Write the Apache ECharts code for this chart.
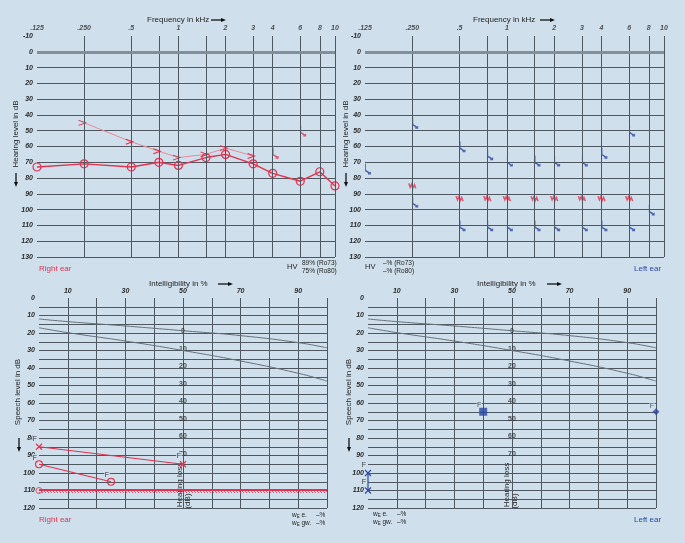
<!DOCTYPE html>
<html>
<head>
<meta charset="utf-8">
<script src="https://cdn.jsdelivr.net/npm/echarts@6/dist/echarts.min.js"></script>
<style>
  html, body { margin: 0; padding: 0; background: #cfe0ec; }
  #chart { width: 685px; height: 543px; }
</style>
</head>
<body>
<div id="chart"></div>
<script>
// ---- pure-tone audiogram (kHz / dB HL) ----
var gridFreqs = [0.25, 0.5, 0.75, 1, 1.5, 2, 3, 4, 6, 8, 10];
var tickFreqs = [0.125, 0.25, 0.5, 1, 2, 3, 4, 6, 8, 10];
var tickNames = ['.125', '.250', '.5', '1', '2', '3', '4', '6', '8', '10'];

// right ear
var acFreqR = [0.125, 0.25, 0.5, 0.75, 1, 1.5, 2, 3, 4, 6, 8, 10];
var acLevelR = [73, 71, 73, 70, 72, 67, 65, 71, 77, 82, 76, 85];
var bcFreqR = [0.25, 0.5, 0.75, 1, 1.5, 2, 3];
var bcLevelR = [45, 57, 63, 67, 65, 61, 66];
var nrFreqR = [4, 6];
var nrLevelR = [64, 50];

// left ear
var nrFreqL = [0.125, 0.25, 0.25, 0.5, 0.75, 1, 1.5, 2, 3, 4, 6, 8, 0.5, 0.75, 1, 1.5, 2, 3, 4, 6];
var nrLevelL = [74, 45, 95, 60, 65, 69, 69, 69, 69, 64, 50, 100, 110, 110, 110, 110, 110, 110, 110, 110];
var maskFreqL = [0.25, 0.5, 0.75, 1, 1.5, 2, 3, 4, 6];
var maskLevelL = [85, 93, 93, 93, 93, 93, 93, 93, 93];

// ---- speech audiogram (% / dB) ----
var refPct = [0, 10, 30, 50, 70, 90, 100];
var refNumbers = [12, 13.5, 16, 18.7, 21.5, 25.5, 28.5];
var refWords = [17, 19.8, 24.6, 30, 36, 43, 47.5];
var hlNames = ['0', '10', '20', '30', '40', '50', '60', '70'];
var hlLevels = [19, 29, 39, 49, 59, 69, 79, 89];

var numPctR = [0, 50], numLevelR = [85, 95];
var wordPctR = [0, 25], wordLevelR = [95, 105];
var uclLevelR = 110;

var wordPctL = [40], wordLevelL = [65];
var wordPctL2 = [100], wordLevelL2 = [65];
var numPctL = [0, 0], numLevelL = [100, 110];

// ---- styles ----
var gridCol = '#4e575f';
var red = '#e2324e';
var pink = '#e98a9b';
var blue = '#2b46a3';
var refCol = '#66717a';
var lbl = { fontStyle: 'italic', fontWeight: 'bold', fontSize: 7, color: '#2a2a2a',
            fontFamily: '"Liberation Sans Narrow", "Liberation Sans", sans-serif' };
var txtFont = '8px "Liberation Sans", sans-serif';

var symX = 'path://M0,0L10,10M10,0L0,10';
var symGt = 'path://M0,0L10,5L0,10';
var symNR = 'path://M0,0L0,9L5,13M2.5,13L5,13L5,10.5';
var symMask = 'path://M0,0L1.5,6L3,1L4.5,7L6,2L7.5,8';

function zip(xs, ys) { return xs.map(function (x, i) { return [x, ys[i]]; }); }
function fill(n, c) { var a = []; for (var i = 0; i < n; i++) a.push(c); return a; }

// hatch pattern for the discomfort level
var hc = document.createElement('canvas');
hc.width = 3; hc.height = 4;
var hctx = hc.getContext('2d');
hctx.strokeStyle = red; hctx.lineWidth = 0.9;
hctx.beginPath(); hctx.moveTo(0, 0); hctx.lineTo(3, 4); hctx.stroke();

function freqAxis(i) {
  return { type: 'log', logBase: 2, gridIndex: i, min: 0.125, max: 10,
           axisLine: { show: false }, axisTick: { show: false },
           axisLabel: { show: false }, splitLine: { show: false } };
}
function pctAxis(i) {
  return { type: 'value', gridIndex: i, position: 'top', min: 0, max: 100, interval: 10,
           axisLine: { show: false }, axisTick: { show: false },
           axisLabel: Object.assign({ margin: 3, formatter: function (v) { return v % 20 === 10 ? v : ''; } }, lbl),
           splitLine: { show: true, lineStyle: { color: ['transparent'].concat(fill(10, gridCol)), width: 1 } } };
}
function hlAxis(i) {
  return { type: 'value', gridIndex: i, inverse: true, min: -10, max: 130, interval: 10,
           axisLine: { show: false }, axisTick: { show: false },
           axisLabel: Object.assign({ margin: 4 }, lbl),
           splitLine: { show: true, lineStyle: { color: ['transparent'].concat(fill(14, gridCol)), width: 1 } } };
}
function slAxis(i) {
  return { type: 'value', gridIndex: i, inverse: true, min: 0, max: 120, interval: 5,
           axisLine: { show: false }, axisTick: { show: false },
           axisLabel: Object.assign({ margin: 4, formatter: function (v) { return v % 10 === 0 ? v : ''; } }, lbl),
           splitLine: { show: true, lineStyle: { color: ['transparent'].concat(fill(24, gridCol)), width: 1 } } };
}

// frequency tick labels + vertical grid lines + 0 dB line
function freqFrame(i) {
  return {
    type: 'scatter', xAxisIndex: i, yAxisIndex: i, silent: true,
    symbolSize: 0.1, itemStyle: { color: 'transparent' },
    data: tickFreqs.map(function (f, k) { return [f, -10, tickNames[k]]; }),
    label: Object.assign({ show: true, position: 'top', distance: 4,
                           formatter: function (p) { return p.data[2]; } }, lbl),
    markLine: {
      silent: true, symbol: ['none', 'none'], label: { show: false },
      lineStyle: { type: 'solid', color: gridCol, width: 1 },
      data: gridFreqs.map(function (f) { return { xAxis: f }; })
        .concat([{ yAxis: 0, lineStyle: { type: 'solid', color: '#83909a', width: 3 } }])
    }
  };
}
function refCurve(i, ys) {
  return { type: 'line', xAxisIndex: i, yAxisIndex: i, silent: true, smooth: true,
           showSymbol: false, data: zip(refPct, ys), lineStyle: { color: refCol, width: 1 } };
}
function hlScale(i) {
  return { type: 'scatter', xAxisIndex: i, yAxisIndex: i, silent: true,
           symbolSize: 0.1, itemStyle: { color: 'transparent' },
           data: hlLevels.map(function (v, k) { return [50, v, hlNames[k]]; }),
           label: Object.assign({ show: true, position: 'inside',
                                  formatter: function (p) { return p.data[2]; } }, lbl, { fontStyle: 'normal' }) };
}
var fLabel = { show: true, position: 'top', distance: 0, offset: [-4, 1], formatter: 'F', fontSize: 7,
               fontFamily: '"Liberation Sans", sans-serif' };

var option = {
  backgroundColor: '#cfe0ec',
  animation: false,
  grid: [
    { left: 37, top: 36, width: 298, height: 221 },
    { left: 365, top: 36, width: 299, height: 221 },
    { left: 39, top: 298, width: 288, height: 210 },
    { left: 368, top: 298, width: 288, height: 210 }
  ],
  xAxis: [freqAxis(0), freqAxis(1), pctAxis(2), pctAxis(3)],
  yAxis: [hlAxis(0), hlAxis(1), slAxis(2), slAxis(3)],
  series: [
    freqFrame(0),
    { type: 'line', xAxisIndex: 0, yAxisIndex: 0, data: zip(bcFreqR, bcLevelR),
      symbol: symGt, symbolSize: [7, 5], symbolOffset: [-2, 0],
      itemStyle: { color: 'none', borderColor: red, borderWidth: 1.1 },
      lineStyle: { color: pink, width: 1 } },
    { type: 'line', xAxisIndex: 0, yAxisIndex: 0, data: zip(acFreqR, acLevelR),
      symbol: 'circle', symbolSize: 8,
      itemStyle: { color: 'transparent', borderColor: red, borderWidth: 1.2 },
      lineStyle: { color: red, width: 1.4 } },
    { type: 'scatter', xAxisIndex: 0, yAxisIndex: 0, data: zip(nrFreqR, nrLevelR),
      symbol: symNR, symbolSize: [5, 10], symbolOffset: [3, 0],
      itemStyle: { color: 'none', borderColor: red, borderWidth: 1.2 } },

    freqFrame(1),
    { type: 'scatter', xAxisIndex: 1, yAxisIndex: 1, data: zip(nrFreqL, nrLevelL),
      symbol: symNR, symbolSize: [5, 10], symbolOffset: [3, 0],
      itemStyle: { color: 'none', borderColor: blue, borderWidth: 1.2 } },
    { type: 'scatter', xAxisIndex: 1, yAxisIndex: 1, data: zip(maskFreqL, maskLevelL),
      symbol: symMask, symbolSize: [7, 5],
      itemStyle: { color: 'none', borderColor: red, borderWidth: 1.3 } },

    refCurve(2, refNumbers), refCurve(2, refWords), hlScale(2),
    { type: 'line', xAxisIndex: 2, yAxisIndex: 2, data: zip(numPctR, numLevelR),
      symbol: symX, symbolSize: 6, label: fLabel,
      itemStyle: { color: 'none', borderColor: red, borderWidth: 1.1 },
      lineStyle: { color: red, width: 1.2 } },
    { type: 'line', xAxisIndex: 2, yAxisIndex: 2, data: zip(wordPctR, wordLevelR),
      symbol: 'circle', symbolSize: 7, label: fLabel,
      itemStyle: { color: 'transparent', borderColor: red, borderWidth: 1.1 },
      lineStyle: { color: red, width: 1.2 } },
    { type: 'scatter', xAxisIndex: 2, yAxisIndex: 2, data: [[0, uclLevelR]],
      symbol: 'circle', symbolSize: 6,
      itemStyle: { color: 'transparent', borderColor: red, borderWidth: 1 },
      markArea: { silent: true,
        itemStyle: { color: { image: hc, repeat: 'repeat' } },
        data: [[{ yAxis: uclLevelR - 0.3 }, { yAxis: uclLevelR + 1.4 }]] },
      markLine: { silent: true, symbol: ['none', 'none'], label: { show: false },
        lineStyle: { type: 'solid', color: red, width: 1.8 },
        data: [{ yAxis: uclLevelR - 0.6 }] } },

    refCurve(3, refNumbers), refCurve(3, refWords), hlScale(3),
    { type: 'scatter', xAxisIndex: 3, yAxisIndex: 3, data: zip(wordPctL, wordLevelL),
      symbol: 'rect', symbolSize: 8, label: fLabel, itemStyle: { color: blue } },
    { type: 'scatter', xAxisIndex: 3, yAxisIndex: 3, data: zip(wordPctL2, wordLevelL2),
      symbol: 'diamond', symbolSize: 7, label: fLabel, itemStyle: { color: blue } },
    { type: 'line', xAxisIndex: 3, yAxisIndex: 3, data: zip(numPctL, numLevelL),
      symbol: symX, symbolSize: 6, label: fLabel,
      itemStyle: { color: 'none', borderColor: blue, borderWidth: 1.1 },
      lineStyle: { color: blue, width: 1.2 } }
  ],
  graphic: []
};

// free text, titles and arrows
function txt(x, y, s, extra) {
  return Object.assign({ type: 'text', x: x, y: y, silent: true,
    style: Object.assign({ text: s, font: txtFont, fill: '#222', textAlign: 'left', textVerticalAlign: 'middle' },
                         extra && extra.style) }, extra && extra.el);
}
function arrowRight(x, y) {
  return [{ type: 'line', silent: true, shape: { x1: x, y1: y, x2: x + 11, y2: y }, style: { stroke: '#111', lineWidth: 1.3 } },
          { type: 'polygon', silent: true, shape: { points: [[x + 10, y - 2], [x + 15, y], [x + 10, y + 2]] }, style: { fill: '#111' } }];
}
function arrowDown(x, y) {
  return [{ type: 'line', silent: true, shape: { x1: x, y1: y, x2: x, y2: y + 10 }, style: { stroke: '#111', lineWidth: 1.3 } },
          { type: 'polygon', silent: true, shape: { points: [[x - 2, y + 9], [x, y + 14], [x + 2, y + 9]] }, style: { fill: '#111' } }];
}
function vtxt(x, y, s) {
  return txt(x, y, s, { el: { rotation: Math.PI / 2 }, style: { textAlign: 'center' } });
}
var g = option.graphic;
g.push(txt(147, 20, 'Frequency in kHz'), txt(473, 20, 'Frequency in kHz'));
g.push.apply(g, arrowRight(211, 20)); g.push.apply(g, arrowRight(540, 20));
g.push(txt(149, 284, 'Intelligibility in %'), txt(477, 284, 'Intelligibility in %'));
g.push.apply(g, arrowRight(218, 284)); g.push.apply(g, arrowRight(547, 284));
g.push(vtxt(16, 134, 'Hearing level in dB'), vtxt(346, 134, 'Hearing level in dB'));
g.push.apply(g, arrowDown(16, 173)); g.push.apply(g, arrowDown(346, 173));
g.push(vtxt(18, 392, 'Speech level in dB'), vtxt(349, 392, 'Speech level in dB'));
g.push.apply(g, arrowDown(19, 438)); g.push.apply(g, arrowDown(349, 438));
g.push(vtxt(180, 485, 'Hearing loss'), vtxt(188, 501, '(dB)'));
g.push(vtxt(507, 485, 'Hearing loss'), vtxt(515, 501, '(dB)'));
g.push(txt(39, 269, 'Right ear', { style: { fill: red } }), txt(39, 520, 'Right ear', { style: { fill: red } }));
g.push(txt(634, 269, 'Left ear', { style: { fill: blue } }), txt(634, 520, 'Left ear', { style: { fill: blue } }));
var smallFont = '6.5px "Liberation Sans", sans-serif';
g.push(txt(287, 267, 'HV', { style: { font: '7.5px "Liberation Sans", sans-serif' } }));
g.push(txt(302, 263, '89% (Ro73)', { style: { font: smallFont } }), txt(302, 271, '75% (Ro80)', { style: { font: smallFont } }));
g.push(txt(365, 267, 'HV', { style: { font: '7.5px "Liberation Sans", sans-serif' } }));
g.push(txt(383, 263, '–% (Ro73)', { style: { font: smallFont } }), txt(383, 271, '–% (Ro80)', { style: { font: smallFont } }));
var richW = { s: { fontSize: 4.5, padding: [4, 0, 0, 0] } };
function wLine(x, y, s) {
  return [txt(x, y, '{n|w}{s|E} ' + s, { style: { font: smallFont, rich: Object.assign({ n: { fontSize: 6.5 } }, richW) } }),
          txt(x + 24, y, '–%', { style: { font: smallFont } })];
}
g.push.apply(g, wLine(292, 515, 'e.')); g.push.apply(g, wLine(292, 523, 'gw.'));
g.push.apply(g, wLine(373, 514, 'e.')); g.push.apply(g, wLine(373, 522, 'gw.'));

var chart = echarts.init(document.getElementById('chart'), null, { renderer: 'canvas' });
chart.setOption(option);
</script>
</body>
</html>
